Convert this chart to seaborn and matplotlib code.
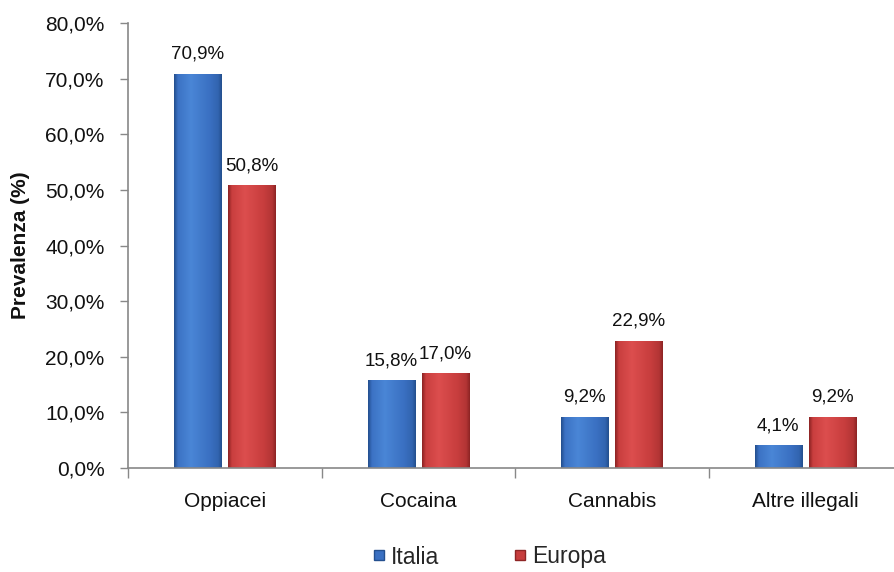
import matplotlib
matplotlib.use("Agg")
import matplotlib.pyplot as plt
import seaborn as sns
import numpy as np
import pandas as pd
from matplotlib.ticker import FuncFormatter, FixedLocator
from matplotlib.patches import Patch
from matplotlib.colors import to_rgb

categories = ["Oppiacei", "Cocaina", "Cannabis", "Altre illegali"]
italia = [70.9, 15.8, 9.2, 4.1]
europa = [50.8, 17.0, 22.9, 9.2]
series = ["Italia", "Europa"]
colors = {"Italia": "#3A70C2", "Europa": "#C73D3D"}
light = {"Italia": "#4A86D6", "Europa": "#DC4E4E"}
dark = {"Italia": "#24508F", "Europa": "#8E2525"}

df = pd.DataFrame({
    "categoria": categories * 2,
    "serie": ["Italia"] * 4 + ["Europa"] * 4,
    "valore": italia + europa,
})

sns.set_theme(style="white")
plt.rcParams["font.family"] = ["Liberation Sans", "DejaVu Sans"]

fig = plt.figure(figsize=(8.94, 5.72), dpi=100)
ax = fig.add_axes([128 / 894, 104 / 572, 774 / 894, 445 / 572])

sns.barplot(data=df, x="categoria", y="valore", hue="serie",
            order=categories, hue_order=series, palette=colors,
            width=0.56, gap=0.13, ax=ax, legend=False, saturation=1)


def shaded(bar, base, hi, lo):
    """Paint a bevelled gradient inside a bar, clipped to its outline."""
    x0, y0 = bar.get_x(), bar.get_y()
    w, h = bar.get_width(), bar.get_height()
    n = 64
    t = np.linspace(0, 1, n)
    prof = np.interp(t, [0, 0.08, 0.35, 0.75, 0.93, 1.0], [0.0, 0.6, 1.0, 0.55, 0.35, 0.0])
    cb, ch, cl = (np.array(to_rgb(c)) for c in (base, hi, lo))
    row = np.where(prof[:, None] > 0.55,
                   cb + (ch - cb) * ((prof[:, None] - 0.55) / 0.45),
                   cl + (cb - cl) * (prof[:, None] / 0.55))
    img = np.tile(row[None, :, :], (2, 1, 1))
    im = ax.imshow(img, extent=(x0, x0 + w, y0, y0 + h), aspect="auto",
                   interpolation="bilinear", zorder=bar.get_zorder() + 0.1, origin="lower")
    im.set_clip_path(bar)


for cont, s in zip(ax.containers, series):
    for bar in cont:
        bar.set_edgecolor(dark[s])
        bar.set_linewidth(0.6)
        shaded(bar, colors[s], light[s], dark[s])
    ax.bar_label(cont, labels=[f"{v:.1f}%".replace(".", ",") for v in cont.datavalues],
                 padding=8, fontsize=13.5, color="#111111")

ax.set_ylim(0, 80)
ax.set_xlim(-0.5, 3.5)
ax.set_yticks(range(0, 81, 10))
ax.yaxis.set_major_formatter(FuncFormatter(lambda v, p: f"{v:.1f}%".replace(".", ",")))
ax.tick_params(axis="y", labelsize=15, length=6, width=1, color="#888888",
               left=True, pad=11, labelcolor="#111111")
ax.tick_params(axis="x", which="major", length=0, labelsize=15, pad=17, labelcolor="#111111")
ax.xaxis.set_minor_locator(FixedLocator([-0.5, 0.5, 1.5, 2.5, 3.5]))
ax.tick_params(axis="x", which="minor", bottom=True, length=7, width=1, color="#888888")

for side in ("top", "right"):
    ax.spines[side].set_visible(False)
for side in ("left", "bottom"):
    ax.spines[side].set_color("#888888")
    ax.spines[side].set_linewidth(1.2)

ax.set_xlabel("")
ax.set_ylabel("Prevalenza (%)", fontsize=15, fontweight="bold", labelpad=11, color="#111111")

handles = [Patch(facecolor=colors[s], edgecolor=dark[s], label=s) for s in series]
fig.legend(handles=handles, loc="center", bbox_to_anchor=(490 / 894, 1 - 557 / 572),
           ncol=2, frameon=False, fontsize=16.5, handlelength=0.45, handleheight=0.3,
           handletextpad=0.3, columnspacing=3.3)

fig.savefig("out.png", dpi=100)
